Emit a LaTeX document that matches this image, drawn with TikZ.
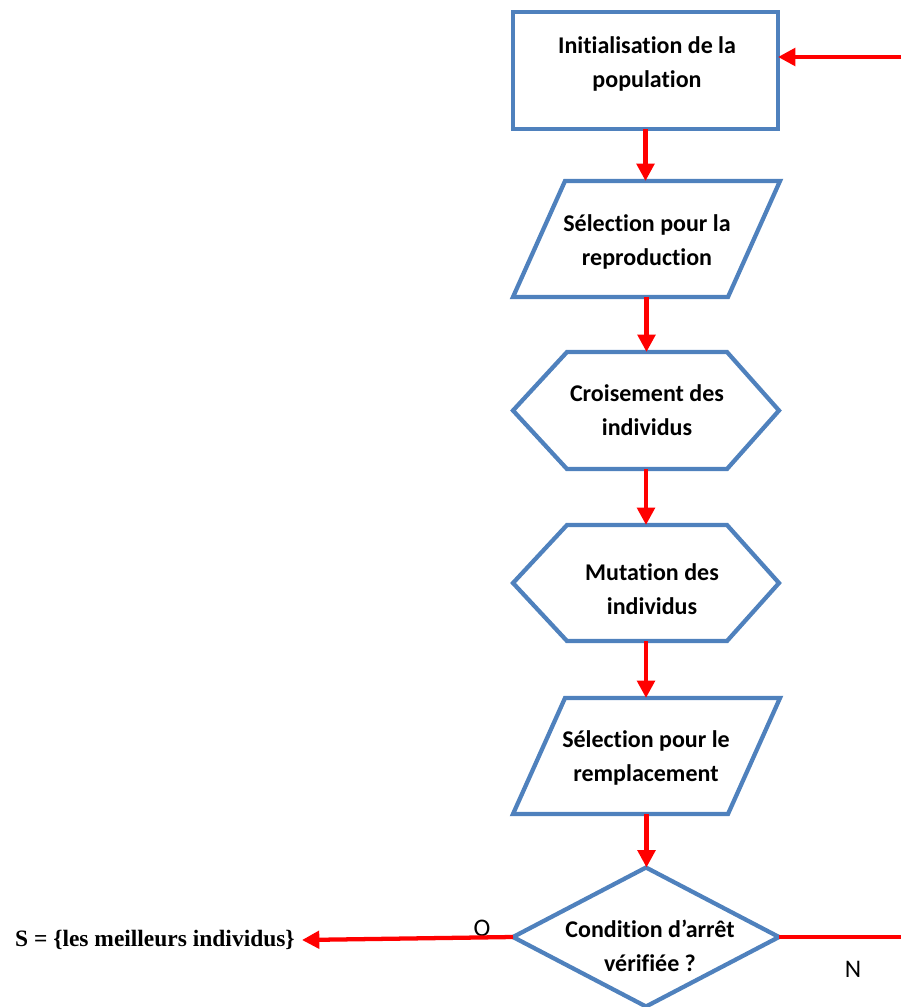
\documentclass[tikz,border=0pt]{standalone}
\usepackage{fontspec}
\setmainfont{Carlito}[Ligatures=NoCommon]
\newfontfamily\timesfont{Liberation Serif}
\usetikzlibrary{arrows.meta,calc}
\definecolor{shapeblue}{HTML}{4F81BD}
\definecolor{arrowred}{HTML}{FF0000}
\tikzset{
  outline/.style={draw=shapeblue, line width=3.2pt, line join=miter},
  frame/.style={inner sep=0pt, outer sep=0pt},
  txt/.style={font=\bfseries\fontsize{18}{25.5}\selectfont, align=center, inner sep=0pt},
  yn/.style={font=\fontsize{19}{21}\selectfont, inner sep=0pt},
  arr/.style={draw=arrowred, line width=3.2pt, -{Triangle[length=13pt,width=13pt]}},
  redline/.style={draw=arrowred, line width=3.2pt},
}
\begin{document}
\begin{tikzpicture}[x=0.75pt,y=-0.75pt]
\useasboundingbox (0,0) rectangle (901,1007);

% shape frames (bounding boxes)
\node[frame, outline, minimum width=198.75pt, minimum height=87.75pt] (init) at (645.5,70.5) {};
\node[frame, minimum width=200.25pt, minimum height=87pt] (sel1) at (646.5,239) {};
\node[frame, minimum width=199.5pt, minimum height=87.75pt] (cro) at (646,410.5) {};
\node[frame, minimum width=199.5pt, minimum height=87pt] (mut) at (646,583) {};
\node[frame, minimum width=200.25pt, minimum height=87pt] (sel2) at (646.5,756) {};
\node[frame, minimum width=199.5pt, minimum height=104.25pt] (cond) at (646,937) {};

% outlines
\draw[outline] ($(sel1.north west)+(52,0)$) -- (sel1.north east) -- ($(sel1.south east)-(52,0)$) -- (sel1.south west) -- cycle;
\draw[outline] ($(sel2.north west)+(52,0)$) -- (sel2.north east) -- ($(sel2.south east)-(52,0)$) -- (sel2.south west) -- cycle;
\draw[outline] ($(cro.north west)+(54,0)$) -- ($(cro.north east)-(52,0)$) -- (cro.east) -- ($(cro.south east)-(52,0)$) -- ($(cro.south west)+(54,0)$) -- (cro.west) -- cycle;
\draw[outline] ($(mut.north west)+(54,0)$) -- ($(mut.north east)-(52,0)$) -- (mut.east) -- ($(mut.south east)-(52,0)$) -- ($(mut.south west)+(54,0)$) -- (mut.west) -- cycle;
\draw[outline] (cond.north) -- (cond.east) -- (cond.south) -- (cond.west) -- cycle;

% texts
\node[txt] (initT) at (647,64) {Initialisation de la\\population};
\node[txt] (sel1T) at (647,241.5) {Sélection pour la\\reproduction};
\node[txt] (croT) at (647,410) {Croisement des\\individus};
\node[txt] (mutT) at (652,589) {Mutation des\\individus};
\node[txt] (sel2T) at (646,757.5) {Sélection pour le\\remplacement};
\node[txt] (condT) at (650,945.5) {Condition d’arrêt\\vérifiée ?};

\node[font=\timesfont\bfseries\fontsize{17.6}{20}\selectfont, inner sep=0pt, anchor=east] (S) at (295,940) {S = \{les meilleurs individus\}};
\node[yn] (O) at (482,928) {O};
\node[yn] (N) at (853,969) {N};

% connectors
\coordinate (inR) at (901,57);
\coordinate (outR) at (901,937);
\draw[arr] (inR) -- (inR -| init.east);
\draw[arr] (init.south) -- (init.south |- sel1.north);
\draw[arr] (sel1.south) -- (sel1.south |- cro.north);
\draw[arr] (cro.south) -- (cro.south |- mut.north);
\draw[arr] (mut.south) -- (mut.south |- sel2.north);
\draw[arr] (sel2.south) -- (sel2.south |- cond.north);
\draw[redline] (cond.east) -- (outR);
\draw[arr] (cond.west) -- ($(S.east)+(7,0)$);
\end{tikzpicture}
\end{document}
